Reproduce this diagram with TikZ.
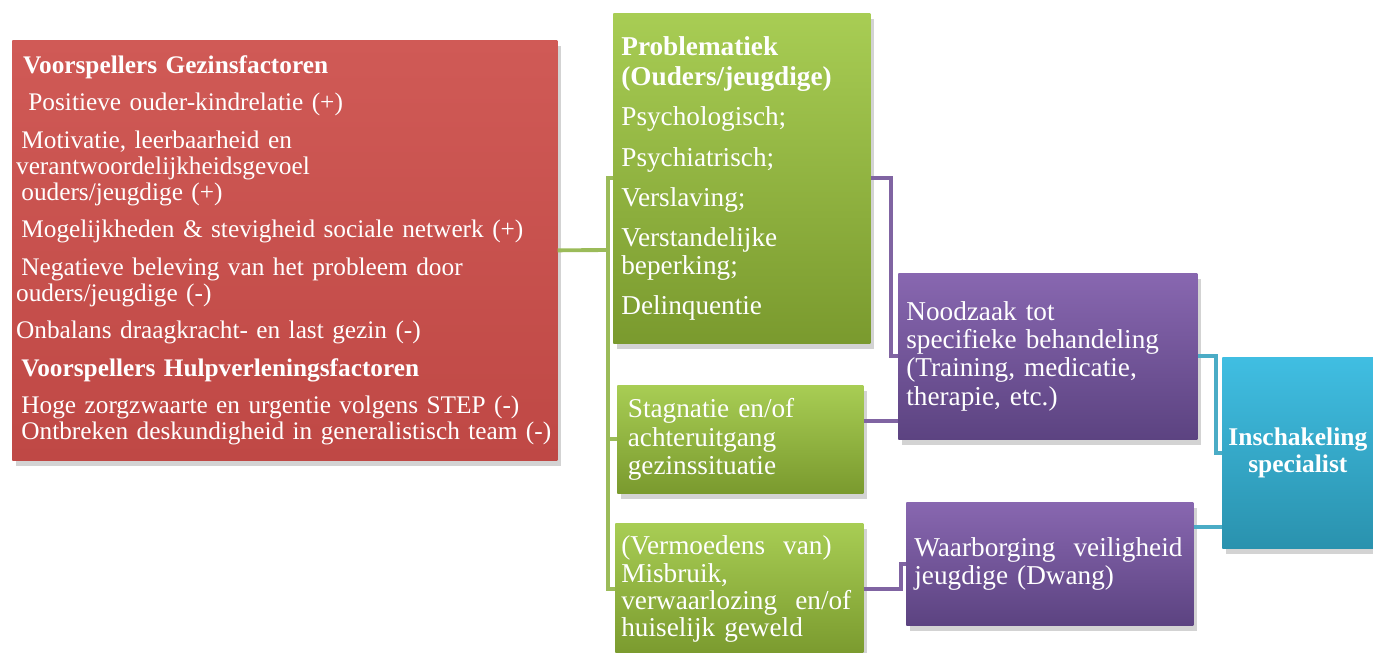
\documentclass[tikz,border=0pt]{standalone}
\usepackage{fontspec}
\setmainfont{Liberation Serif}
\usetikzlibrary{arrows.meta,positioning,shadows,calc}
\definecolor{redtop}{HTML}{D05A56}
\definecolor{redbot}{HTML}{BF4845}
\definecolor{greentop}{HTML}{A8CD54}
\definecolor{greenbot}{HTML}{7A9A2E}
\definecolor{violettop}{HTML}{8867B0}
\definecolor{violetbot}{HTML}{5C4381}
\definecolor{cyantop}{HTML}{40BEE2}
\definecolor{cyanbot}{HTML}{2A92AE}
\definecolor{greenline}{HTML}{9BBB59}
\definecolor{violetline}{HTML}{8064A2}
\definecolor{cyanline}{HTML}{4BACC6}

\tikzset{
  card/.style={anchor=north west, text=white, align=left, inner ysep=0pt,
    drop shadow={opacity=0.35, shadow xshift=2pt, shadow yshift=-3pt}},
  twig/.style={draw=greenline, line width=2.2pt},
  vtwig/.style={draw=violetline, line width=2.2pt},
  ctwig/.style={draw=cyanline, line width=2.2pt}
}

\begin{document}
\begin{tikzpicture}
  \useasboundingbox (0,0) rectangle (27.46,-13.06);

  \node[card, top color=redtop, bottom color=redbot, inner xsep=2pt,
        text width=10.75cm, minimum width=10.9cm, minimum height=8.4cm,
        font=\fontsize{14.4}{14.8}\selectfont] (factors) at (0.24,-0.80) {
    \hspace*{4pt}{\bfseries Voorspellers Gezinsfactoren}\\[6.5pt]
    \hspace*{7pt}Positieve ouder-kindrelatie (+)\\[6.5pt]
    \hspace*{3pt}Motivatie, leerbaarheid en\\
    verantwoordelijkheidsgevoel\\
    \hspace*{3pt}ouders/jeugdige (+)\\[6.5pt]
    \hspace*{3pt}Mogelijkheden \& stevigheid sociale netwerk (+)\\[6.5pt]
    \hspace*{3pt}Negatieve beleving van het probleem door\\
    ouders/jeugdige (-)\\[6.5pt]
    Onbalans draagkracht- en last gezin (-)\\[6.5pt]
    \hspace*{3pt}{\bfseries Voorspellers Hulpverleningsfactoren}\\[6.5pt]
    \hspace*{3pt}Hoge zorgzwaarte en urgentie volgens STEP (-)\\
    \hspace*{3pt}Ontbreken deskundigheid in generalistisch team (-)
  };

  \node[card, top color=greentop, bottom color=greenbot, inner xsep=0.16cm,
        text width=4.82cm, minimum width=5.14cm, minimum height=6.6cm,
        font=\fontsize{15.5}{15.5}\selectfont] (problems) at (12.26,-0.26) {
    {\bfseries Problematiek}\\[1.5pt]
    {\bfseries (Ouders/jeugdige)}\\[7.5pt]
    Psychologisch;\\[7.5pt]
    Psychiatrisch;\\[7.5pt]
    Verslaving;\\[7.5pt]
    Verstandelijke\\
    beperking;\\[7.5pt]
    Delinquentie
  };

  \node[card, top color=greentop, bottom color=greenbot, inner xsep=0.2cm,
        text width=4.5cm, minimum width=4.92cm, minimum height=2.16cm,
        font=\fontsize{15.5}{16}\selectfont] (stagnation) at (12.34,-7.70) {
    Stagnatie en/of\\ achteruitgang\\ gezinssituatie
  };

  \node[card, top color=greentop, bottom color=greenbot, inner xsep=0.12cm,
        text width=4.72cm, minimum width=4.96cm, minimum height=2.64cm,
        font=\fontsize{15.5}{15.6}\selectfont] (abuse) at (12.30,-10.46) {
    (Vermoedens\ \ van)\\ Misbruik,\\ verwaarlozing\ \ en/of\\ huiselijk geweld
  };

  \node[card, top color=violettop, bottom color=violetbot, inner xsep=0.16cm,
        text width=5.66cm, minimum width=5.98cm, minimum height=3.32cm,
        font=\fontsize{15.5}{16}\selectfont] (treatment) at (17.96,-5.46) {
    Noodzaak tot\\ specifieke behandeling\\ (Training,\ medicatie,\\ therapie, etc.)
  };

  \node[card, top color=violettop, bottom color=violetbot, inner xsep=0.16cm,
        text width=5.42cm, minimum width=5.74cm, minimum height=2.46cm,
        font=\fontsize{15.5}{16}\selectfont] (safety) at (18.12,-10.04) {
    Waarborging\ \ veiligheid\\ jeugdige (Dwang)
  };

  \node[card, top color=cyantop, bottom color=cyanbot, align=center, inner xsep=0pt,
        text width=3.02cm, minimum width=3.02cm, minimum height=3.82cm,
        font=\fontsize{14.5}{15.5}\selectfont\bfseries] (specialist) at (24.44,-7.14) {
    Inschakeling\\ specialist
  };

  % connectors
  \coordinate (fork) at (12.16,-5.0);
  \draw[twig] (factors.east) -- (fork);
  \draw[twig] (problems.west) -| (fork) |- (abuse.west);
  \draw[twig] (fork |- stagnation.west) -- (stagnation.west);

  \draw[vtwig] (problems.east) -- ++(0.40,0) |- (treatment.west);
  \draw[vtwig] ([yshift=0.36cm]stagnation.east) -- ([yshift=0.36cm]stagnation.east -| treatment.west);
  \draw[vtwig] (abuse.east) -- ++(0.74,0) |- (safety.west);

  \draw[ctwig] (treatment.east) -- ++(0.36,0) |- (specialist.west);
  \draw[ctwig] ([yshift=0.73cm]safety.east) -- ([yshift=0.73cm]safety.east -| specialist.west);
\end{tikzpicture}
\end{document}
